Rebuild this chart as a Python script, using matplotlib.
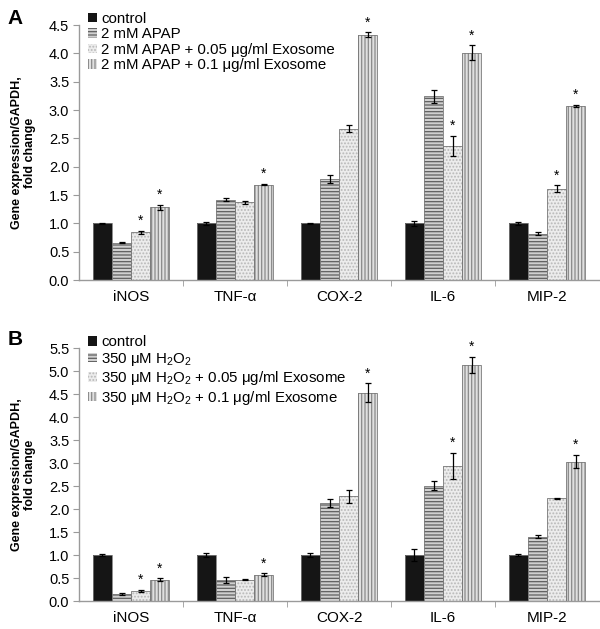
import numpy as np
import matplotlib
matplotlib.use("Agg")
import matplotlib.pyplot as plt
from matplotlib.patches import Patch

plt.rcParams['font.family'] = ['Liberation Sans', 'DejaVu Sans']
plt.rcParams['mathtext.fontset'] = 'custom'
plt.rcParams['mathtext.rm'] = 'Liberation Sans'
plt.rcParams['mathtext.it'] = 'Liberation Sans:italic'
plt.rcParams['mathtext.bf'] = 'Liberation Sans:bold'

categories = ['iNOS', 'TNF-α', 'COX-2', 'IL-6', 'MIP-2']

labels_a = ['control', '2 mM APAP', '2 mM APAP + 0.05 μg/ml Exosome', '2 mM APAP + 0.1 μg/ml Exosome']
vals_a = [
    [1.00, 1.00, 1.00, 1.00, 1.00],
    [0.66, 1.42, 1.79, 3.24, 0.82],
    [0.84, 1.37, 2.67, 2.36, 1.61],
    [1.28, 1.68, 4.33, 4.01, 3.07],
]
errs_a = [
    [0.01, 0.03, 0.01, 0.05, 0.03],
    [0.005, 0.03, 0.07, 0.12, 0.02],
    [0.02, 0.02, 0.06, 0.18, 0.06],
    [0.04, 0.01, 0.04, 0.13, 0.02],
]
stars_a = [
    [0, 0, 0, 0, 0],
    [0, 0, 0, 0, 0],
    [1, 0, 0, 1, 1],
    [1, 1, 1, 1, 1],
]

labels_b = ['control', r'350 μM H$\mathregular{_2}$O$\mathregular{_2}$',
            r'350 μM H$\mathregular{_2}$O$\mathregular{_2}$ + 0.05 μg/ml Exosome',
            r'350 μM H$\mathregular{_2}$O$\mathregular{_2}$ + 0.1 μg/ml Exosome']
vals_b = [
    [1.00, 1.00, 1.00, 1.00, 1.00],
    [0.15, 0.46, 2.13, 2.51, 1.40],
    [0.22, 0.46, 2.28, 2.94, 2.23],
    [0.46, 0.57, 4.53, 5.13, 3.03],
]
errs_b = [
    [0.02, 0.04, 0.05, 0.12, 0.02],
    [0.02, 0.07, 0.08, 0.10, 0.04],
    [0.02, 0.01, 0.14, 0.28, 0.02],
    [0.03, 0.03, 0.20, 0.17, 0.14],
]
stars_b = [
    [0, 0, 0, 0, 0],
    [0, 0, 0, 0, 0],
    [1, 0, 0, 1, 0],
    [1, 1, 1, 1, 1],
]

styles = [
    dict(face='#151515', hatch=None, hcol='#151515'),
    dict(face='#d0d0d0', hatch='-----', hcol='#606060'),
    dict(face='#ececec', hatch='.....', hcol='#b8b8b8'),
    dict(face='#e0e0e0', hatch='|||||', hcol='#8a8a8a'),
]

plt.rcParams['hatch.linewidth'] = 0.9

fig = plt.figure(figsize=(6.0, 6.29), dpi=100)
axA = fig.add_axes([0.1317, 0.5548, 0.8667, 0.4054])
axB = fig.add_axes([0.1317, 0.0445, 0.8667, 0.4022])

bw = 0.183
axis_gray = '#9a9a9a'

def draw(ax, vals, errs, stars, labels, ymax):
    x = np.arange(len(categories))
    handles = []
    for i in range(4):
        st = styles[i]
        pos = x + (i - 1.5) * bw
        ax.bar(pos, vals[i], width=bw, color=st['face'], hatch=st['hatch'],
               edgecolor=st['hcol'], linewidth=0, zorder=2)
        ax.bar(pos, vals[i], width=bw, fill=False, edgecolor='#7a7a7a',
               linewidth=0.6, zorder=3)
        ax.errorbar(pos, vals[i], yerr=errs[i], fmt='none', ecolor='black',
                    elinewidth=0.9, capsize=2.5, capthick=0.9, zorder=4)
        for j in range(len(categories)):
            if stars[i][j]:
                ax.text(pos[j], vals[i][j] + errs[i][j] + ymax * 0.012, '*',
                        ha='center', va='bottom', fontsize=10)
        handles.append(Patch(facecolor=st['face'], hatch=st['hatch'],
                             edgecolor=st['hcol'], linewidth=0))
    ax.set_xlim(-0.5, len(categories) - 0.5)
    ax.set_ylim(0, ymax)
    ax.set_yticks(np.arange(0, ymax + 0.01, 0.5))
    ax.set_yticklabels(['%.1f' % v for v in np.arange(0, ymax + 0.01, 0.5)], fontsize=10.5)
    ax.set_xticks(x)
    ax.set_xticklabels(categories, fontsize=11)
    ax.set_xticks(np.arange(0.5, len(categories) - 0.5, 1.0), minor=True)
    ax.tick_params(axis='x', which='major', length=0, pad=7)
    ax.tick_params(axis='x', which='minor', length=4, color=axis_gray, direction='out')
    ax.tick_params(axis='y', length=4, color=axis_gray, direction='out', pad=3)
    for s in ['top', 'right']:
        ax.spines[s].set_visible(False)
    for s in ['left', 'bottom']:
        ax.spines[s].set_color(axis_gray)
        ax.spines[s].set_linewidth(1.0)
    ax.set_ylabel('Gene expression/GAPDH,\nfold change', fontsize=9,
                  fontweight='bold', labelpad=9, linespacing=1.1)
    ax.legend(handles, labels, loc='upper left', bbox_to_anchor=(0.005, 1.075),
              frameon=False, fontsize=10.8, handlelength=0.6, handleheight=0.6,
              handletextpad=0.3, labelspacing=0.1, borderaxespad=0)

draw(axA, vals_a, errs_a, stars_a, labels_a, 4.5)
draw(axB, vals_b, errs_b, stars_b, labels_b, 5.5)

fig.text(0.012, 0.985, 'A', fontsize=15, fontweight='bold', va='top', ha='left')
fig.text(0.012, 0.475, 'B', fontsize=15, fontweight='bold', va='top', ha='left')

fig.savefig('out.png', dpi=100)
